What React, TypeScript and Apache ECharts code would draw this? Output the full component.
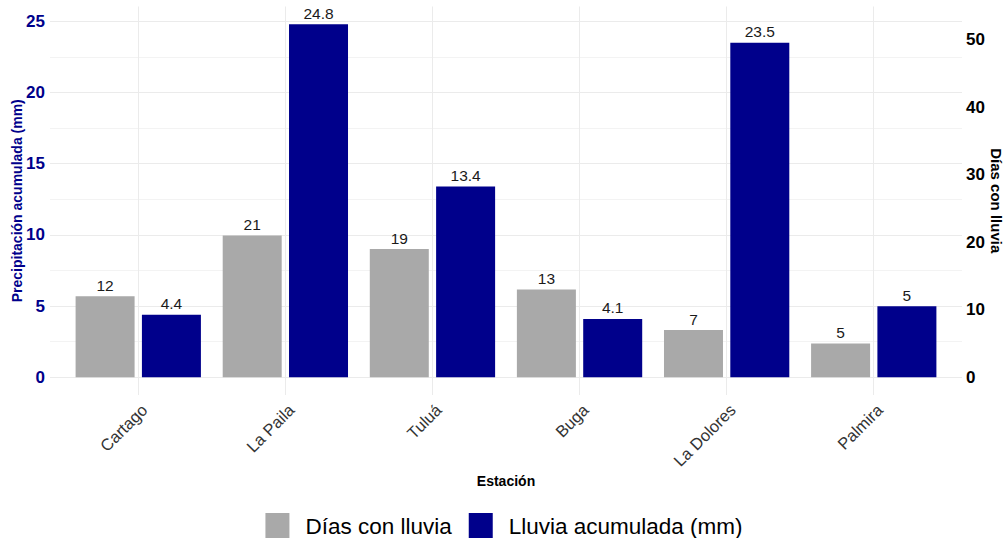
import { useEffect, useRef } from 'react';
import * as echarts from 'echarts';

const categories = ['Cartago', 'La Paila', 'Tuluá', 'Buga', 'La Dolores', 'Palmira'];
const diasConLluvia = [12, 21, 19, 13, 7, 5];
const lluviaAcumulada = [4.4, 24.8, 13.4, 4.1, 23.5, 5];
const seriesNames = ['Días con lluvia', 'Lluvia acumulada (mm)'];
const SEC_FACTOR = 2.11;

export default function App() {
  const ref = useRef<HTMLDivElement>(null);
  useEffect(() => {
    const chart = echarts.init(ref.current as HTMLDivElement, null, { renderer: 'svg' });
    const font = "'Liberation Sans', Arial, sans-serif";
    const maxL = Math.max(...lluviaAcumulada, ...diasConLluvia.map((d) => d / SEC_FACTOR));
    const pad = maxL * 0.05;
    const lMin = -pad;
    const lMax = maxL + pad;
    const valueLabel = {
      show: true,
      position: 'top',
      distance: 3,
      fontSize: 15.5,
      color: '#1a1a1a',
      formatter: (p: any) => String(p.value[1]),
    };
    chart.setOption({
      animation: false,
      textStyle: { fontFamily: font },
      grid: {
        left: 50,
        right: 46,
        top: 6.5,
        height: 388.5,
        containLabel: false,
        outerBoundsMode: 'none',
      },
      xAxis: {
        type: 'value',
        min: -0.6,
        max: categories.length - 0.4,
        minInterval: 1,
        maxInterval: 1,
        name: 'Estación',
        nameLocation: 'middle',
        nameGap: 79,
        nameMoveOverlap: false,
        nameTextStyle: { fontWeight: 'bold', fontSize: 14, color: '#000' },
        axisLine: { show: false },
        axisTick: { show: false },
        axisLabel: {
          rotate: 45,
          margin: 6,
          fontSize: 16.5,
          color: '#333',
          verticalAlign: 'top',
          showMinLabel: false,
          showMaxLabel: false,
          formatter: (v: number) => (Number.isInteger(v) ? categories[v] ?? '' : ''),
        },
        splitLine: {
          show: true,
          showMinLine: false,
          showMaxLine: false,
          lineStyle: { color: '#EBEBEB', width: 1 },
        },
      },
      yAxis: [
        {
          type: 'value',
          position: 'left',
          min: lMin,
          max: lMax,
          minInterval: 5,
          maxInterval: 5,
          name: 'Precipitación acumulada (mm)',
          nameLocation: 'middle',
          nameGap: 26,
          nameMoveOverlap: false,
          nameTextStyle: { fontWeight: 'bold', fontSize: 14, color: '#00008B' },
          axisLine: { show: false },
          axisTick: { show: false },
          axisLabel: {
            margin: 5,
            fontSize: 17,
            fontWeight: 'bold',
            color: '#00008B',
            showMinLabel: false,
            showMaxLabel: false,
          },
          splitLine: {
            show: true,
            showMinLine: false,
            showMaxLine: false,
            lineStyle: { color: '#EBEBEB', width: 1 },
          },
          minorTick: { show: false, splitNumber: 2 },
          minorSplitLine: { show: true, lineStyle: { color: '#F3F3F3', width: 1 } },
        },
        {
          type: 'value',
          position: 'right',
          min: lMin * SEC_FACTOR,
          max: lMax * SEC_FACTOR,
          minInterval: 10,
          maxInterval: 10,
          name: 'Días con lluvia',
          nameLocation: 'middle',
          nameRotate: -90,
          nameGap: 27,
          nameMoveOverlap: false,
          nameTextStyle: { fontWeight: 'bold', fontSize: 15, color: '#000' },
          axisLine: { show: false },
          axisTick: { show: false },
          axisLabel: {
            margin: 4,
            fontSize: 17,
            fontWeight: 'bold',
            color: '#000',
            showMinLabel: false,
            showMaxLabel: false,
          },
          splitLine: { show: false },
        },
      ],
      legend: {
        top: 508,
        left: 'center',
        icon: 'rect',
        itemWidth: 24,
        itemHeight: 26,
        itemGap: 17,
        textStyle: { fontSize: 22.5, color: '#000', padding: [0, 0, 0, 11] },
        data: seriesNames,
      },
      series: [
        {
          name: seriesNames[0],
          type: 'bar',
          yAxisIndex: 1,
          barWidth: 59,
          barGap: '12.4%',
          itemStyle: { color: '#A9A9A9' },
          label: valueLabel,
          data: diasConLluvia.map((v, i) => [i, v]),
        },
        {
          name: seriesNames[1],
          type: 'bar',
          yAxisIndex: 0,
          barWidth: 59,
          barGap: '12.4%',
          itemStyle: { color: '#00008B' },
          label: valueLabel,
          data: lluviaAcumulada.map((v, i) => [i, v]),
        },
      ],
    });
    return () => chart.dispose();
  }, []);
  return (
    <div
      ref={ref}
      style={{ position: 'absolute', left: 0, top: 0, width: 1008, height: 538, background: '#fff' }}
    />
  );
}
